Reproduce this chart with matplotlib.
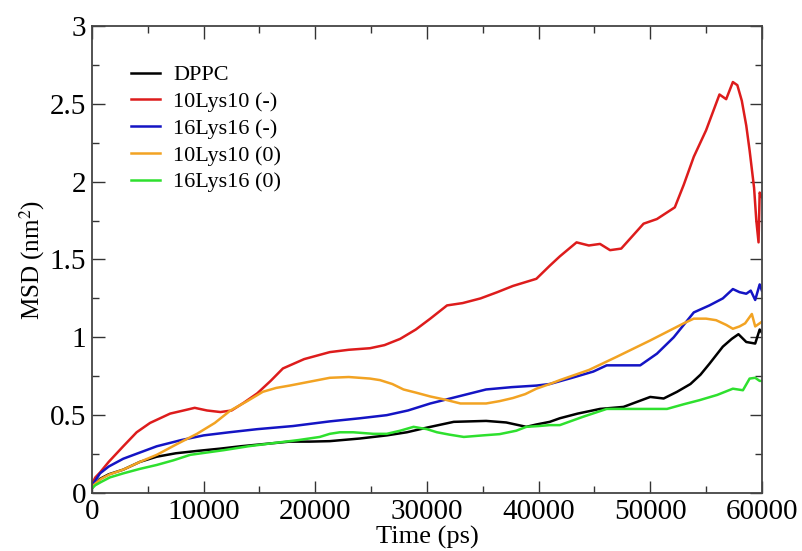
import matplotlib.pyplot as plt
import numpy as np

plt.rcParams['font.family'] = ['Liberation Serif', 'DejaVu Serif']
plt.rcParams['mathtext.fontset'] = 'stix'

# time points (ps) and MSD (nm^2)
t_dppc  = [0, 300, 700, 1500, 2800, 4300, 5800, 7500, 9400, 11500, 13300, 15500, 17700, 19500, 21300, 24000,
           26400, 28200, 30000, 32400, 35300, 37100, 38900, 39800, 41000, 41900, 43500, 45500, 47600, 50000,
           51200, 52400, 53600, 54500, 55300, 56500, 57300, 57900, 58600, 59400, 59800, 60000]
y_dppc  = [0.03, 0.06, 0.09, 0.12, 0.15, 0.2, 0.233, 0.255, 0.27, 0.285, 0.30, 0.315, 0.33, 0.33, 0.333, 0.35,
           0.37, 0.39, 0.42, 0.457, 0.463, 0.453, 0.425, 0.44, 0.457, 0.48, 0.51, 0.54, 0.553, 0.617,
           0.607, 0.65, 0.70, 0.76, 0.83, 0.94, 0.99, 1.02, 0.97, 0.96, 1.05, 1.03]

t_10m   = [0, 300, 700, 1500, 2800, 4000, 5200, 7000, 8200, 9200, 10300, 11500, 12500, 13600, 14800, 16000,
           17100, 19000, 21300, 23000, 24900, 26200, 27600, 29000, 30300, 31800, 33200, 34800, 36300, 37700,
           39800, 41000, 41900, 43400, 44500, 45500, 46400, 47400, 48400, 49400, 50600, 52200, 53000, 53900,
           55000, 56200, 56800, 57400, 57800, 58200, 58600, 58900, 59300, 59500, 59700, 59800, 60000]
y_10m   = [0.06, 0.1, 0.13, 0.2, 0.30, 0.39, 0.45, 0.51, 0.53, 0.547, 0.53, 0.52, 0.53, 0.58, 0.64, 0.72,
           0.80, 0.86, 0.905, 0.92, 0.93, 0.95, 0.99, 1.05, 1.12, 1.205, 1.22, 1.25, 1.29, 1.33,
           1.376, 1.46, 1.52, 1.61, 1.59, 1.60, 1.56, 1.57, 1.65, 1.73, 1.76, 1.835, 1.98, 2.16,
           2.33, 2.56, 2.53, 2.64, 2.62, 2.52, 2.36, 2.20, 1.96, 1.75, 1.61, 1.93, 1.90]

t_16m   = [0, 300, 720, 1500, 2800, 4300, 5800, 8000, 10000, 12300, 14800, 18000, 21300, 24000, 26400, 28300,
           30300, 32800, 35300, 37600, 39800, 41000, 43000, 44900, 46100, 47500, 49100, 50600, 52100, 53900,
           55300, 56500, 57400, 58000, 58600, 59000, 59400, 59800, 60000]
y_16m   = [0.04, 0.08, 0.126, 0.17, 0.22, 0.26, 0.30, 0.34, 0.37, 0.39, 0.41, 0.43, 0.46, 0.48, 0.50, 0.53,
           0.575, 0.62, 0.665, 0.68, 0.69, 0.70, 0.74, 0.78, 0.82, 0.82, 0.82, 0.895, 1.0, 1.16,
           1.205, 1.25, 1.31, 1.29, 1.28, 1.30, 1.24, 1.34, 1.30]

t_10n   = [0, 300, 800, 1600, 2800, 4300, 5800, 7500, 9400, 11000, 12400, 13900, 15300, 16500, 17700, 19500,
           21300, 23000, 24900, 25800, 26900, 27900, 29000, 30300, 31600, 33000, 35300, 36500, 37700, 38800,
           39800, 41000, 41900, 44500, 47000, 50000, 53000, 53900, 55000, 55900, 56800, 57400, 58000, 58500,
           59100, 59400, 59800, 60000]
y_10n   = [0.04, 0.06, 0.09, 0.12, 0.15, 0.20, 0.245, 0.31, 0.38, 0.45, 0.53, 0.59, 0.65, 0.675, 0.69, 0.715,
           0.74, 0.745, 0.735, 0.725, 0.70, 0.665, 0.645, 0.62, 0.60, 0.575, 0.575, 0.59, 0.61, 0.635,
           0.67, 0.70, 0.725, 0.79, 0.875, 0.98, 1.09, 1.12, 1.12, 1.11, 1.08, 1.055, 1.07, 1.09,
           1.15, 1.07, 1.09, 1.10]

t_16n   = [0, 300, 800, 1600, 2800, 4300, 5800, 7300, 8800, 10300, 11800, 14000, 16200, 18500, 20400, 21300,
           22200, 23400, 25200, 26400, 27600, 28800, 30000, 30900, 32000, 33300, 35000, 36500, 38000, 38900,
           40000, 41000, 41900, 44000, 46100, 48500, 50000, 51500, 53000, 54400, 56000, 57400, 58300, 58900,
           59400, 59800, 60000]
y_16n   = [0.03, 0.05, 0.07, 0.10, 0.126, 0.155, 0.18, 0.21, 0.245, 0.26, 0.275, 0.30, 0.32, 0.34, 0.36, 0.38,
           0.39, 0.39, 0.38, 0.38, 0.40, 0.425, 0.41, 0.39, 0.375, 0.36, 0.37, 0.378, 0.40, 0.425,
           0.43, 0.436, 0.436, 0.49, 0.54, 0.54, 0.54, 0.54, 0.57, 0.596, 0.63, 0.67, 0.66, 0.735,
           0.74, 0.72, 0.72]

series = [
    (t_dppc, y_dppc, '#000000', 'DPPC'),
    (t_10m, y_10m, '#dd1c1c', '10Lys10 (-)'),
    (t_16m, y_16m, '#1414c4', '16Lys16 (-)'),
    (t_10n, y_10n, '#f2a323', '10Lys10 (0)'),
    (t_16n, y_16n, '#2ee02e', '16Lys16 (0)'),
]

fig = plt.figure(figsize=(8.02, 5.51), dpi=100)
ax = fig.add_axes([0.1147, 0.1053, 0.8353, 0.8475])

for t, y, c, lab in series:
    ax.plot(t, y, color=c, lw=1.8, label=lab)

ax.set_xlim(0, 60000)
ax.set_ylim(0, 3)
ax.set_xticks(np.arange(0, 60001, 10000))
ax.set_xticks(np.arange(0, 60001, 5000), minor=True)
ax.set_yticks([0, 0.5, 1, 1.5, 2, 2.5, 3])
ax.set_yticklabels(['0', '0.5', '1', '1.5', '2', '2.5', '3'])
ax.set_yticks(np.arange(0, 3.01, 0.25), minor=True)

ax.tick_params(which='both', direction='in', top=True, right=True, colors='#333333', labelcolor='black')
ax.tick_params(which='major', length=9, width=1.0, labelsize=21, pad=4)
ax.tick_params(which='minor', length=5, width=1.0)
for s in ax.spines.values():
    s.set_color('#444444')
    s.set_linewidth(1.3)

ax.set_xlabel('Time (ps)', fontsize=19, labelpad=1)
ax.set_ylabel('MSD (nm$^2$)', fontsize=18, labelpad=2)

ax.legend(loc='upper left', bbox_to_anchor=(0.058, 0.917), frameon=False, fontsize=16,
          handlelength=1.3, handletextpad=0.6, labelspacing=0.28, borderpad=0, borderaxespad=0)

plt.savefig('out.png', dpi=100)
